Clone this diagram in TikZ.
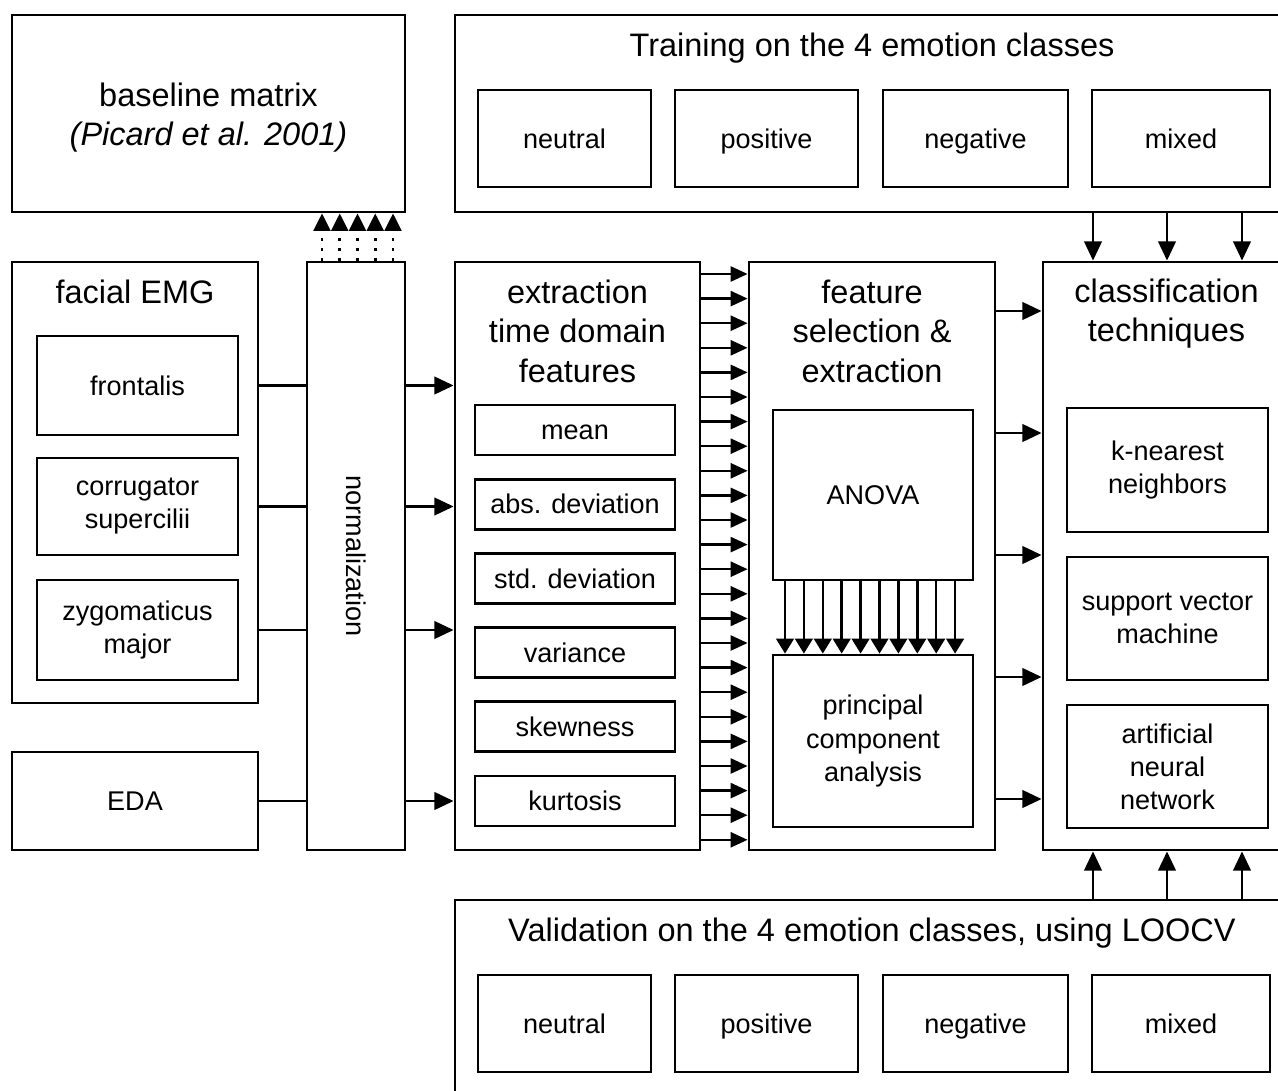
\documentclass[tikz,border=0pt]{standalone}
\usepackage{fontspec}
\setmainfont{Liberation Sans}
\usetikzlibrary{arrows.meta}

\begin{document}
\begin{tikzpicture}[x=0.02cm, y=-0.02cm,
	box/.style={draw, line width=1.6pt, inner sep=0pt, align=center},
	wd/.style={minimum width=#1*0.02cm},
	ht/.style={minimum height=#1*0.02cm},
	big/.style={font=\fontsize{18.5}{22.5}\selectfont},
	small/.style={font=\fontsize{15.4}{18.8}\selectfont},
	one/.style={text height=13pt, text depth=2pt},
	boxtitle/.style={inner sep=0pt, align=center, big},
	link/.style={line width=1.5pt},
	arr/.style={line width=1.5pt, -{Triangle[length=11pt,width=10pt]}},
	thinarr/.style={line width=1.4pt, -{Triangle[length=9.6pt,width=8.5pt]}},
	pcaarr/.style={line width=1.4pt, -{Triangle[length=8.5pt,width=10pt]}},
	dotarr/.style={line width=1.6pt, dash pattern=on 1.6pt off 4.1pt, -{Triangle[length=10pt,width=9.6pt]}}]
	\useasboundingbox (0,0) rectangle (1278,1091);
	\clip (0,0) rectangle (1278,1091);
	% top row
	\node[box, wd=393, ht=197] (base) at (208.5,113.5) {};
	\node[boxtitle] (basetext) at (208.5,117.5) {baseline matrix\\\textit{(Picard et al. 2001)}};
	\node[box, wd=835, ht=197] (train) at (872.5,113.5) {};
	\node[boxtitle] (traintitle) at (872,48) {Training on the 4 emotion classes};
	\node[box, small, one, wd=173, ht=97] (trneu) at (564.5,138.5) {neutral};
	\node[box, small, one, wd=183, ht=97] (trpos) at (766.5,138.5) {positive};
	\node[box, small, one, wd=185, ht=97] (trneg) at (975.5,138.5) {negative};
	\node[box, small, one, wd=178, ht=97] (trmix) at (1181,138.5) {mixed};
	% inputs
	\node[box, wd=246, ht=441] (emg) at (135,482.5) {};
	\node[boxtitle] (emgtitle) at (135,292) {facial EMG};
	\node[box, small, one, wd=201, ht=99] (front) at (137.5,385.5) {frontalis};
	\node[box, small, wd=201, ht=97] (corr) at (137.5,506.5) {corrugator\\supercilii};
	\node[box, small, wd=201, ht=100] (zygo) at (137.5,630) {zygomaticus\\major};
	\node[box, small, one, wd=246, ht=98] (eda) at (135,801) {EDA};
	\node[box, wd=98, ht=588] (norm) at (356,556) {};
	\node[small, rotate=-90, inner sep=0pt] (normtext) at (356,556) {normalization};
	% features
	\node[box, wd=245, ht=588] (ext) at (577.5,556) {};
	\node[boxtitle] (exttitle) at (577.5,331) {extraction\\time domain\\features};
	\node[box, small, one, wd=200, ht=50] (mean) at (575,430) {mean};
	\node[box, small, one, wd=200, ht=50] (absdev) at (575,504.2) {abs. deviation};
	\node[box, small, one, wd=200, ht=50] (stddev) at (575,578.4) {std. deviation};
	\node[box, small, one, wd=200, ht=50] (var) at (575,652.6) {variance};
	\node[box, small, one, wd=200, ht=50] (skew) at (575,726.8) {skewness};
	\node[box, small, one, wd=200, ht=50] (kurt) at (575,801) {kurtosis};
	\node[box, wd=246, ht=588] (fsel) at (872,556) {};
	\node[boxtitle] (fseltitle) at (872,331) {feature\\selection \&\\extraction};
	\node[box, small, one, wd=200, ht=170] (anova) at (873,495) {ANOVA};
	\node[box, small, wd=200, ht=172] (pca) at (873,741) {principal\\component\\analysis};
	% classifiers
	\node[box, wd=247, ht=588] (clf) at (1166.5,556) {};
	\node[boxtitle] (clftitle) at (1166.5,313.5) {classification\\techniques};
	\node[box, small, wd=201, ht=124] (knn) at (1167.5,470) {k-nearest\\neighbors};
	\node[box, small, wd=201, ht=123] (svm) at (1167.5,618.5) {support vector\\machine};
	\node[box, small, wd=201, ht=123] (ann) at (1167.5,766.5) {artificial\\neural\\network};
	% validation
	\node[box, wd=835, ht=210] (valid) at (872.5,1005) {};
	\node[boxtitle] (validtitle) at (872,933) {Validation on the 4 emotion classes, using LOOCV};
	\node[box, small, one, wd=173, ht=97] (vaneu) at (564.5,1023.5) {neutral};
	\node[box, small, one, wd=183, ht=97] (vapos) at (766.5,1023.5) {positive};
	\node[box, small, one, wd=185, ht=97] (vaneg) at (975.5,1023.5) {negative};
	\node[box, small, one, wd=178, ht=97] (vamix) at (1181,1023.5) {mixed};
	% connectors
	\foreach \n in {front, corr, zygo} {
		\draw[link] (emg.east |- \n) -- (norm.west |- \n);
		\draw[arr] (norm.east |- \n) -- (ext.west |- \n);
	}
	\draw[link] (eda) -- (norm.west |- eda);
	\draw[arr] (norm.east |- eda) -- (ext.west |- eda);
	\foreach \x in {322,339.75,357.5,375.25,393}
		\draw[dotarr] (norm.north -| \x,0) -- (base.south -| \x,0);
	\foreach \i [evaluate=\i as \yy using 274+24.6*\i] in {0,...,23}
		\draw[thinarr] (ext.east |- 0,\yy) -- (fsel.west |- 0,\yy);
	\foreach \i [evaluate=\i as \xx using 785+18.9*\i] in {0,...,9}
		\draw[pcaarr] (anova.south -| \xx,0) -- (pca.north -| \xx,0);
	\foreach \i [evaluate=\i as \yy using 311+122*\i] in {0,...,4}
		\draw[arr] (fsel.east |- 0,\yy) -- (clf.west |- 0,\yy);
	\foreach \x in {1093,1167,1242} {
		\draw[arr] (train.south -| \x,0) -- (clf.north -| \x,0);
		\draw[arr] (valid.north -| \x,0) -- (clf.south -| \x,0);
	}
\end{tikzpicture}
\end{document}
